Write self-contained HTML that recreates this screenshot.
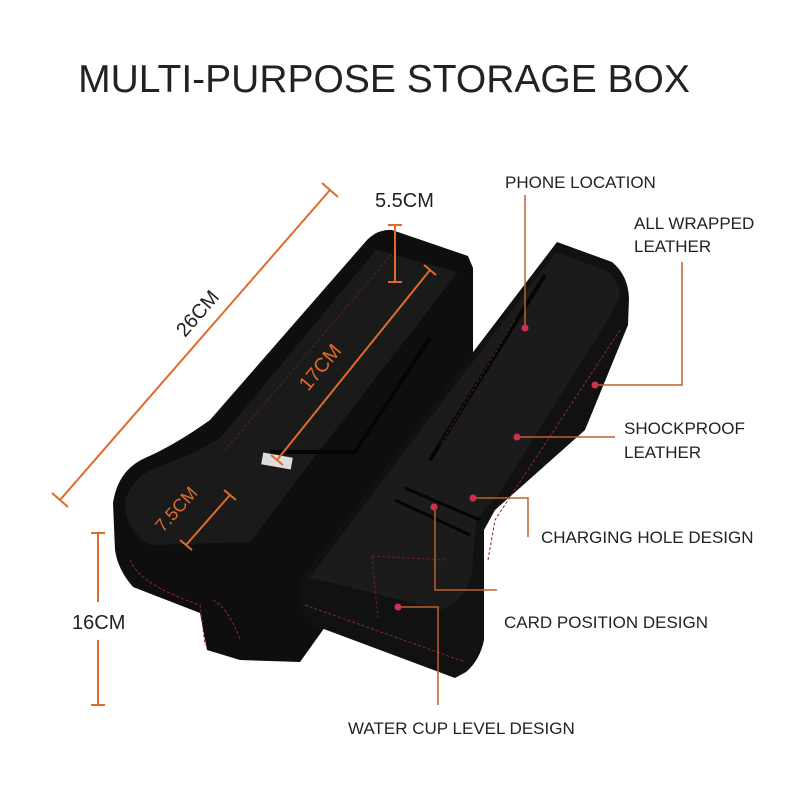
<!DOCTYPE html>
<html><head><meta charset="utf-8"><style>
body{margin:0;background:#fff;}
svg{display:block;}
text{font-family:"Liberation Sans",sans-serif;fill:#222;}
</style></head><body>
<svg width="800" height="800" viewBox="0 0 800 800" xmlns="http://www.w3.org/2000/svg">
<text x="384" y="92" font-size="39" text-anchor="middle" fill="#111">MULTI-PURPOSE STORAGE BOX</text>

<!-- left box -->
<path d="M367,240 Q378,229 392,230 L468,256 L473,268 L473,420 L300,662 L240,660 L207,650 L200,613 L133,587 Q118,570 115,550 L113,503 Q118,470 145,458 Q175,445 210,420 Z" fill="#0e0e0e"/>
<path d="M376,250 L458,272 L300,476 L282,500 L250,542 L150,545 Q126,530 125,505 Q128,478 160,466 Q200,452 222,436 Z" fill="#1a1a1a"/>
<path d="M130,560 Q140,585 200,605 L205,645" stroke="#8a2a2a" stroke-width="1" fill="none" stroke-dasharray="3,2"/>
<path d="M395,250 L225,450" stroke="#5a2020" stroke-width="1" fill="none" stroke-dasharray="3,2"/>
<path d="M213,600 Q230,610 240,640" stroke="#8a2a2a" stroke-width="1" fill="none" stroke-dasharray="3,2"/>
<path d="M270,452 L355,452 L430,338" stroke="#050505" stroke-width="4" fill="none"/>
<rect x="262" y="455" width="30" height="12" fill="#ddd" transform="rotate(10 277 461)"/>

<!-- right box -->
<path d="M557,242 L612,262 Q628,275 629,298 L628,325 L585,430 L495,510 L484,530 L484,640 Q480,660 466,672 L455,678 L305,622 L297,583 Z" fill="#111"/>
<path d="M556,252 L607,271 Q619,280 620,298 L604,326 L500,492 L476,520 L472,570 Q468,600 440,610 L320,580 L309,578 Z" fill="#1b1b1b"/>
<path d="M545,275 L430,460" stroke="#050505" stroke-width="4"/>
<path d="M405,488 L480,520 M395,500 L470,535" stroke="#050505" stroke-width="3"/>
<path d="M305,605 L465,662" stroke="#8a2a2a" stroke-width="1" fill="none" stroke-dasharray="3,2"/>
<path d="M620,330 L495,520 L488,560" stroke="#8a2a2a" stroke-width="1" fill="none" stroke-dasharray="3,2"/>
<path d="M372,556 L378,618 M372,556 L445,560" stroke="#6a2222" stroke-width="1" fill="none" stroke-dasharray="3,2"/>
<path d="M515,320 L440,445" stroke="#5a2020" stroke-width="1" fill="none" stroke-dasharray="3,2"/>

<!-- orange dimensions -->
<g stroke="#e06a2a" stroke-width="2" fill="none">
<line x1="60" y1="500" x2="330" y2="190"/>
<line x1="52" y1="493" x2="68" y2="507"/><line x1="322" y1="183" x2="338" y2="197"/>
<line x1="395" y1="225" x2="395" y2="282"/>
<line x1="388" y1="225" x2="402" y2="225"/><line x1="388" y1="282" x2="402" y2="282"/>
<line x1="430" y1="270" x2="277" y2="460"/>
<line x1="424" y1="265" x2="436" y2="275"/><line x1="271" y1="455" x2="283" y2="465"/>
<line x1="230" y1="495" x2="186" y2="545"/>
<line x1="224" y1="490" x2="236" y2="500"/><line x1="180" y1="540" x2="192" y2="550"/>
<line x1="98" y1="533" x2="98" y2="602"/><line x1="98" y1="640" x2="98" y2="705"/>
<line x1="91" y1="533" x2="105" y2="533"/><line x1="91" y1="705" x2="105" y2="705"/>
</g>
<text x="0" y="0" font-size="20" transform="translate(185,338) rotate(-49)">26CM</text>
<text x="375" y="207" font-size="20">5.5CM</text>
<text x="0" y="0" font-size="20" transform="translate(308,392) rotate(-50)" style="fill:#e06a2a">17CM</text>
<text x="0" y="0" font-size="18" transform="translate(163,533) rotate(-48)" style="fill:#e06a2a">7.5CM</text>
<text x="72" y="629" font-size="20">16CM</text>

<!-- callouts -->
<g stroke="#c06030" stroke-width="1.5" fill="none">
<polyline points="525,195 525,325"/>
<polyline points="682,262 682,385 595,385"/>
<polyline points="515,437 615,437"/>
<polyline points="473,498 528,498 528,537"/>
<polyline points="435,507 435,590 497,590"/>
<polyline points="398,607 438,607 438,705"/>
</g>
<g fill="#d03050"><circle cx="525" cy="328" r="3.5"/><circle cx="595" cy="385" r="3.5"/><circle cx="517" cy="437" r="3.5"/><circle cx="473" cy="498" r="3.5"/><circle cx="434" cy="507" r="3.5"/><circle cx="398" cy="607" r="3.5"/></g>
<g font-size="17">
<text x="505" y="188">PHONE LOCATION</text>
<text x="634" y="229">ALL WRAPPED</text>
<text x="634" y="252">LEATHER</text>
<text x="624" y="434">SHOCKPROOF</text>
<text x="624" y="458">LEATHER</text>
<text x="541" y="543">CHARGING HOLE DESIGN</text>
<text x="504" y="628">CARD POSITION DESIGN</text>
<text x="348" y="734">WATER CUP LEVEL DESIGN</text>
</g>
</svg>
</body></html>
